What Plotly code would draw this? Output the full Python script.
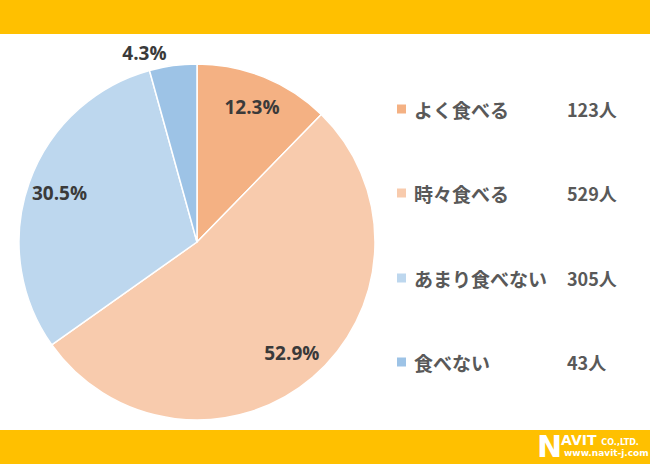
import plotly.graph_objects as go

labels = ["よく食べる", "時々食べる", "あまり食べない", "食べない"]
counts = [123, 529, 305, 43]
colors = ["#F4B183", "#F8CBAD", "#BDD7EE", "#9DC3E6"]
text_pos = ["inside", "inside", "inside", "outside"]

W, H = 650, 464
cx, cy, r = 197, 242, 178
dom = dict(x=[(cx - r) / W, (cx + r) / W], y=[(H - cy - r) / H, (H - cy + r) / H])

fig = go.Figure()
# pie body
fig.add_trace(go.Pie(
    labels=labels, values=counts, sort=False, direction="clockwise", rotation=0,
    marker=dict(colors=colors, line=dict(color="white", width=1.5)),
    textinfo="none", showlegend=False, automargin=False, domain=dom,
    hoverinfo="label+value+percent",
))
# transparent ring carrying the percentage labels further out
fig.add_trace(go.Pie(
    labels=labels, values=counts, sort=False, direction="clockwise", rotation=0, hole=0.64,
    marker=dict(colors=["rgba(0,0,0,0)"] * len(counts), line=dict(width=0)),
    texttemplate="%{percent:.1%}", textposition=text_pos,
    insidetextorientation="horizontal",
    textfont=dict(family="Open Sans", size=19, color="#3A3A3A", weight="bold"),
    showlegend=False, automargin=False, domain=dom, hoverinfo="skip",
))

shapes = [
    dict(type="rect", xref="paper", yref="paper", x0=0, x1=1, y0=1 - 34 / H, y1=1,
         fillcolor="#FFC000", line=dict(width=0), layer="below"),
    dict(type="rect", xref="paper", yref="paper", x0=0, x1=1, y0=0, y1=34 / H,
         fillcolor="#FFC000", line=dict(width=0), layer="below"),
]
annotations = []
leg_y = [109, 193, 278, 362]
for lab, cnt, col, yy in zip(labels, counts, colors, leg_y):
    shapes.append(dict(type="rect", xref="paper", yref="paper",
                       x0=397 / W, x1=406 / W, y0=1 - (yy + 4.5) / H, y1=1 - (yy - 4.5) / H,
                       fillcolor=col, line=dict(width=0)))
    annotations.append(dict(xref="paper", yref="paper", x=412 / W, y=1 - yy / H, xanchor="left", yanchor="middle",
                            text=lab, showarrow=False,
                            font=dict(family="Noto Sans CJK JP", size=19, color="#595959", weight="bold")))
    annotations.append(dict(xref="paper", yref="paper", x=565 / W, y=1 - yy / H, xanchor="left", yanchor="middle",
                            text=f"{cnt}人", showarrow=False,
                            font=dict(family="Noto Sans CJK JP", size=18, color="#595959", weight="bold")))

# logo
annotations.append(dict(xref="paper", yref="paper", x=535 / W, y=1 - 446 / H, xanchor="left", yanchor="middle",
                        text="N", showarrow=False,
                        font=dict(family="DejaVu Sans", size=30, color="white", weight="bold")))
annotations.append(dict(xref="paper", yref="paper", x=559 / W, y=1 - 440 / H, xanchor="left", yanchor="middle",
                        text="AVIT <span style='font-size:8px'>CO.,LTD.</span>", showarrow=False,
                        font=dict(family="DejaVu Sans", size=14, color="white", weight="bold")))
annotations.append(dict(xref="paper", yref="paper", x=562 / W, y=1 - 453 / H, xanchor="left", yanchor="middle",
                        text="www.navit-j.com", showarrow=False,
                        font=dict(family="DejaVu Sans", size=9, color="white", weight="bold")))

fig.update_layout(width=W, height=H, margin=dict(l=0, r=0, t=0, b=0),
                  paper_bgcolor="white", plot_bgcolor="white",
                  shapes=shapes, annotations=annotations)
fig.write_html("out.html", config={"displayModeBar": False},
               post_script="document.body.style.margin='0';document.body.style.overflow='hidden';")
